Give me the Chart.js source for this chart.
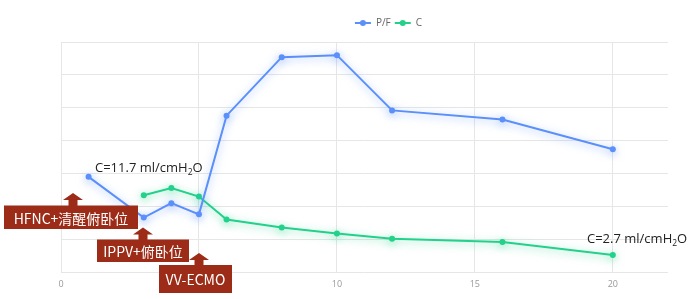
<!DOCTYPE html>
<html><head><meta charset="utf-8">
<script src="https://cdn.jsdelivr.net/npm/chart.js@4"></script>
<style>html,body{margin:0;padding:0;background:#fff;overflow:hidden}#wrap{width:692px;height:299px;position:relative}</style>
</head><body><div id="wrap"><canvas id="c" width="692" height="299"></canvas></div>
<script>
const seriesNames = ['P/F', 'C'];
const pfDays = [1, 3, 4, 5, 6, 8, 10, 12, 16, 20];
const pfValues = [145, 83, 105, 88, 238, 327, 330, 246, 232, 187];
const cDays = [3, 4, 5, 6, 8, 10, 12, 16, 20];
const cValues = [117, 128, 115, 80, 68, 59, 51, 46, 26];
const xTickValues = [0, 5, 10, 15, 20];
const stageLabels = ['HFNC+清醒俯卧位', 'IPPV+俯卧位', 'VV-ECMO'];
const cNotes = ['C=11.7 ml/cmH', 'C=2.7 ml/cmH'];

Chart.defaults.font.family = "'Open Sans', sans-serif";

const BLUE = '#5B8FF9', GREEN = '#23D18B';

const glowPlugin = {
  id: 'glow',
  beforeDatasetDraw(chart, args) {
    const ctx = chart.ctx; ctx.save();
    ctx.shadowColor = chart.data.datasets[args.index].glowColor;
    ctx.shadowBlur = 8; ctx.shadowOffsetY = 2;
  },
  afterDatasetDraw(chart) { chart.ctx.restore(); }
};

const legendShift = {
  id: 'legendShift',
  afterLayout(chart) {
    const lg = chart.legend; if (!lg) return;
    const dx = 24, dy = -4;
    lg.left += dx; lg.right += dx; lg.top += dy; lg.bottom += dy;
  },
  afterDraw(chart) {
    const lg = chart.legend; if (!lg || !lg.legendHitBoxes) return;
    const ctx = chart.ctx; const bw = lg.options.labels.boxWidth;
    lg.legendHitBoxes.forEach((hb, i) => {
      const item = lg.legendItems[i];
      ctx.save(); ctx.fillStyle = item.fillStyle;
      ctx.beginPath(); ctx.arc(hb.left + bw / 2, hb.top + hb.height / 2, 3, 0, Math.PI * 2); ctx.fill();
      ctx.restore();
    });
  }
};

const stageBoxes = [
  { tip: [73, 193], box: [4, 205.5, 138, 229] },
  { tip: [143, 227.5], box: [97, 239.5, 189, 262] },
  { tip: [199, 253], box: [159, 265, 232, 293] }
];
const notePos = [[95, 172], [587, 243]];

const annoPlugin = {
  id: 'anno',
  afterDraw(chart) {
    const ctx = chart.ctx;
    ctx.save();
    ctx.fillStyle = '#222'; ctx.textBaseline = 'alphabetic'; ctx.textAlign = 'left';
    cNotes.forEach((t, i) => {
      let [x, y] = notePos[i];
      ctx.font = "13px 'Open Sans', sans-serif";
      ctx.fillText(t, x, y); x += ctx.measureText(t).width;
      ctx.font = "8.5px 'Open Sans', sans-serif";
      ctx.fillText('2', x, y + 3); x += ctx.measureText('2').width;
      ctx.font = "13px 'Open Sans', sans-serif";
      ctx.fillText('O', x, y);
    });
    stageBoxes.forEach((s, i) => {
      const [tx, ty] = s.tip; const [x0, y0, x1, y1] = s.box;
      ctx.fillStyle = '#9C2C17';
      ctx.beginPath();
      ctx.moveTo(tx, ty); ctx.lineTo(tx + 10, ty + 7); ctx.lineTo(tx + 4.5, ty + 7);
      ctx.lineTo(tx + 4.5, y0 + 1); ctx.lineTo(tx - 4.5, y0 + 1); ctx.lineTo(tx - 4.5, ty + 7);
      ctx.lineTo(tx - 10, ty + 7); ctx.closePath(); ctx.fill();
      ctx.fillRect(x0, y0, x1 - x0, y1 - y0);
      ctx.fillStyle = '#fff'; ctx.textAlign = 'center'; ctx.textBaseline = 'middle';
      ctx.font = "14px 'Noto Sans CJK SC', sans-serif";
      ctx.fillText(stageLabels[i], (x0 + x1) / 2, (y0 + y1) / 2 + 1);
    });
    ctx.restore();
  }
};

new Chart(document.getElementById('c'), {
  type: 'line',
  data: {
    datasets: [
      { label: seriesNames[0], data: pfDays.map((d, i) => ({ x: d, y: pfValues[i] })),
        borderColor: BLUE, backgroundColor: BLUE, glowColor: 'rgba(91,143,249,0.6)',
        borderWidth: 2, pointRadius: 3, pointBorderWidth: 0, tension: 0 },
      { label: seriesNames[1], data: cDays.map((d, i) => ({ x: d, y: cValues[i] })),
        borderColor: GREEN, backgroundColor: GREEN, glowColor: 'rgba(35,209,139,0.6)',
        borderWidth: 2, pointRadius: 3, pointBorderWidth: 0, tension: 0 }
    ]
  },
  options: {
    responsive: false, animation: false,
    layout: { padding: { left: 61, right: 24, top: 18, bottom: 2 } },
    plugins: {
      tooltip: { enabled: false },
      legend: {
        position: 'top',
        labels: {
          boxWidth: 16, boxHeight: 2, padding: 4, color: '#666', font: { size: 10 },
          generateLabels(chart) {
            return Chart.defaults.plugins.legend.labels.generateLabels(chart).map(it => ({ ...it, lineWidth: 0, fillStyle: it.strokeStyle }));
          }
        }
      }
    },
    scales: {
      x: {
        type: 'linear', min: 0, max: 22,
        afterBuildTicks(axis) { axis.ticks = xTickValues.map(v => ({ value: v })); },
        grid: { color: '#e6e6e6', drawTicks: false },
        border: { display: false },
        ticks: { color: '#999', font: { size: 9 }, padding: 7 }
      },
      y: {
        min: 0, max: 350,
        afterFit(s) { s.width = 0; },
        grid: { color: '#e6e6e6', drawTicks: false },
        border: { display: false },
        ticks: { display: false, stepSize: 50 }
      }
    }
  },
  plugins: [glowPlugin, legendShift, annoPlugin]
});
</script></body></html>
